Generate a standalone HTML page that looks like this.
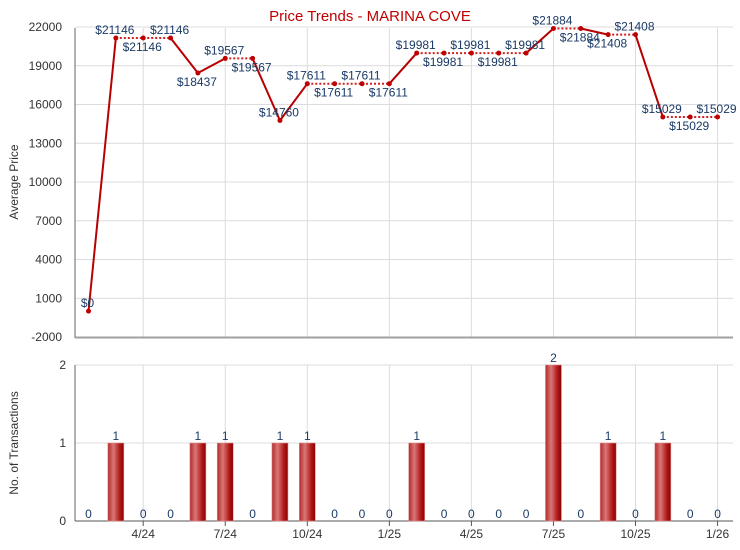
<!DOCTYPE html>
<html><head><meta charset="utf-8"><style>
html,body{margin:0;padding:0;background:#fff;}
svg{display:block;font-family:"Liberation Sans",Arial,sans-serif;}
</style></head><body>
<svg id="chart" width="740" height="550" viewBox="0 0 740 550">
<defs>
<linearGradient id="barGrad" x1="0" x2="1" y1="0" y2="0">
<stop offset="0" stop-color="#b22a2a"/><stop offset="0.35" stop-color="#d97777"/><stop offset="0.75" stop-color="#b01818"/><stop offset="1" stop-color="#8a0000"/>
</linearGradient>
</defs>
<text x="370" y="21" text-anchor="middle" font-size="15" fill="#c00000">Price Trends - MARINA COVE</text>
<g id="grid"></g>
<g id="axes"></g>
<g id="marks"></g>
<g id="labels"></g>
</svg>
<script>
const months = ["2/24","3/24","4/24","5/24","6/24","7/24","8/24","9/24","10/24","11/24","12/24","1/25","2/25","3/25","4/25","5/25","6/25","7/25","8/25","9/25","10/25","11/25","12/25","1/26"];
const prices = [0,21146,21146,21146,18437,19567,19567,14760,17611,17611,17611,17611,19981,19981,19981,19981,19981,21884,21884,21408,21408,15029,15029,15029];
const transactions = [0,1,0,0,1,1,0,1,1,0,0,0,1,0,0,0,0,2,0,1,0,1,0,0];
const labelAbove = [1,1,0,1,0,1,0,1,1,0,1,0,1,0,1,0,1,1,0,0,1,1,0,1];
const priceTicks = [22000,19000,16000,13000,10000,7000,4000,1000,-2000];
const countTicks = [0,1,2];
const xTickLabels = ["4/24","7/24","10/24","1/25","4/25","7/25","10/25","1/26"];

const NS="http://www.w3.org/2000/svg";
const L=75,R=733;
const xOf=i=>88.5+i*27.35;
const yP=v=>337-(v+2000)*(310/24000);
const yC=v=>521-v*78;
function mk(tag,attrs,parent,text){const e=document.createElementNS(NS,tag);for(const k in attrs)e.setAttribute(k,attrs[k]);if(text!==undefined)e.textContent=text;document.getElementById(parent).appendChild(e);return e;}

priceTicks.forEach(t=>{
  const y=yP(t);
  if(t!==-2000){const g=mk('line',{x1:L,x2:R,y1:y,y2:y,stroke:'#dcdcdc','stroke-width':1},'grid');
  
  }
  const tx=mk('text',{x:62,y:y+4,'text-anchor':'end','font-size':12,fill:'#333'},'axes',String(t));
  
  
});
countTicks.forEach(t=>{
  const y=yC(t);
  if(t!==0){const g=mk('line',{x1:L,x2:R,y1:y,y2:y,stroke:'#dcdcdc','stroke-width':1},'grid');
  
  }
  const tx=mk('text',{x:66,y:y+4,'text-anchor':'end','font-size':12,fill:'#333'},'axes',String(t));
  
  
});
xTickLabels.forEach(lbl=>{
  const i=months.indexOf(lbl);const x=xOf(i);
  const g1=mk('line',{x1:x,x2:x,y1:28,y2:337,stroke:'#dcdcdc'},'grid');
  
  
  const g2=mk('line',{x1:x,x2:x,y1:365,y2:521,stroke:'#dcdcdc'},'grid');
  
  
  const tk=mk('line',{x1:x,x2:x,y1:521,y2:526,stroke:'#555'},'axes');
  
  
  const tx=mk('text',{x:x,y:538,'text-anchor':'middle','font-size':12,fill:'#333'},'axes',lbl);
  
  
});
let a=mk('line',{x1:L,x2:L,y1:28,y2:338,stroke:'#666'},'axes');


a=mk('line',{x1:L,x2:R,y1:337.5,y2:337.5,stroke:'#a0a0a0','stroke-width':2},'axes');


a=mk('line',{x1:L,x2:L,y1:365,y2:521,stroke:'#666'},'axes');


a=mk('line',{x1:L,x2:R,y1:521,y2:521,stroke:'#555'},'axes');


let t=mk('text',{x:0,y:0,'text-anchor':'middle','font-size':12,fill:'#333',transform:'translate(18,182) rotate(-90)'},'axes','Average Price');


t=mk('text',{x:0,y:0,'text-anchor':'middle','font-size':12,fill:'#333',transform:'translate(18,443) rotate(-90)'},'axes','No. of Transactions');



transactions.forEach((v,i)=>{
  const x=xOf(i);
  if(v>0){
    const b=mk('rect',{x:x-8,y:yC(v),width:16,height:yC(0)-yC(v),fill:'url(#barGrad)',stroke:'#e09090','stroke-width':0.6},'marks');
    
    
  }
  const tl=mk('text',{x:x,y:yC(v)-3,'text-anchor':'middle','font-size':12,fill:'#1a3a66'},'labels',String(v));
  
  
});

for(let i=1;i<prices.length;i++){
  const solid=transactions[i]>0;
  const s=mk('line',{x1:xOf(i-1),y1:yP(prices[i-1]),x2:xOf(i),y2:yP(prices[i]),stroke:solid?'#b80000':'#d02020','stroke-width':2,'stroke-dasharray':solid?'none':'2,2'},'marks');
  
  
}
prices.forEach((v,i)=>{
  const c=mk('circle',{cx:xOf(i),cy:yP(v),r:2.5,fill:'#c00000'},'marks');
  
  
  const y=labelAbove[i]?yP(v)-4:yP(v)+13;
  const tl=mk('text',{x:xOf(i)-1,y:y,'text-anchor':'middle','font-size':12,fill:'#1a3a66'},'labels','$'+v);
  
  
});
</script>
</body></html>
